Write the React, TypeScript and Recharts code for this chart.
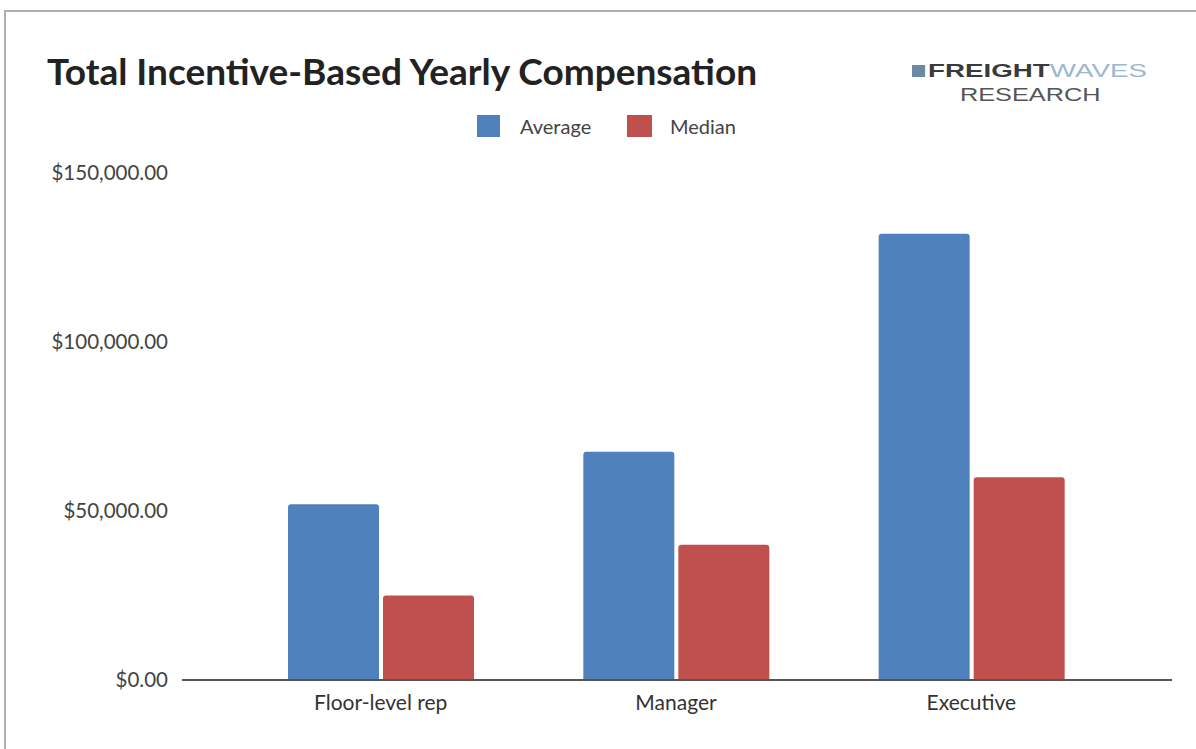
import React from "react";
import { BarChart, Bar, XAxis, YAxis } from "recharts";

const categories = ["Floor-level rep", "Manager", "Executive"];
const averageValues = [52000, 67500, 132000];
const medianValues = [25000, 40000, 60000];
const yTicks = [0, 50000, 100000, 150000];
const seriesNames = ["Average", "Median"];

const data = categories.map((name, i) => ({
  name,
  Average: averageValues[i],
  Median: medianValues[i],
}));

const BLUE = "#4f81bd";
const RED = "#c0504d";
const FONT = "Lato, 'Open Sans', sans-serif";

const fmt = (v: number) =>
  "$" + v.toLocaleString("en-US", { minimumFractionDigits: 2, maximumFractionDigits: 2 });

export default function App() {
  return (
    <div style={{ position: "absolute", left: 0, top: 0, width: 1196, height: 749, background: "#fff", overflow: "hidden" }}>
      <div style={{ position: "absolute", left: 4, top: 10, right: -10, bottom: -10, borderTop: "2px solid #b0b0b0", borderLeft: "2px solid #b0b0b0" }} />
      <div style={{ position: "absolute", left: 47, top: 49, fontFamily: FONT, fontWeight: 700, fontSize: 37, lineHeight: "44px", color: "#222", whiteSpace: "nowrap" }}>
        Total Incentive-Based Yearly Compensation
      </div>
      <div style={{ position: "absolute", left: 912, top: 61, fontFamily: "'Liberation Sans', Arial, sans-serif", fontSize: 19, lineHeight: "19px", whiteSpace: "nowrap", transform: "scaleX(1.46)", transformOrigin: "left top" }}>
        <span style={{ display: "inline-block", width: 9, height: 12, background: "#6b8aa6", marginRight: 2 }} />
        <span style={{ color: "#3a3a3a", fontWeight: 700 }}>FREIGHT</span>
        <span style={{ color: "#9bb8d0", fontWeight: 400 }}>WAVES</span>
      </div>
      <div style={{ position: "absolute", left: 960, top: 85, fontFamily: "'Liberation Sans', Arial, sans-serif", fontSize: 19, lineHeight: "19px", color: "#555", whiteSpace: "nowrap", transform: "scaleX(1.33)", transformOrigin: "left top" }}>
        RESEARCH
      </div>
      <div style={{ position: "absolute", left: 477, top: 115, height: 22, display: "flex", alignItems: "center", fontFamily: FONT, fontSize: 20, color: "#444", whiteSpace: "nowrap" }}>
        <span style={{ width: 23, height: 22, background: BLUE, display: "inline-block", marginRight: 20 }} />
        <span style={{ width: 107 }}>{seriesNames[0]}</span>
        <span style={{ width: 25, height: 22, background: RED, display: "inline-block", marginRight: 18 }} />
        <span>{seriesNames[1]}</span>
      </div>
      <BarChart
        width={1196}
        height={749}
        data={data}
        margin={{ top: 173, right: 24, bottom: 39, left: 12 }}
        barSize={91}
        barGap={4}
      >
        <XAxis
          dataKey="name"
          height={30}
          axisLine={{ stroke: "#555", strokeWidth: 2 }}
          tickLine={false}
          tickSize={0}
          tickMargin={15}
          padding={{ left: 51, right: 53 }}
          tick={{ fill: "#333", fontSize: 21, fontFamily: FONT }}
        />
        <YAxis
          width={170}
          domain={[0, 150000]}
          ticks={yTicks}
          axisLine={false}
          tickLine={false}
          tickSize={0}
          tickMargin={14}
          tickFormatter={fmt}
          tick={{ fill: "#444", fontSize: 20.5, fontFamily: FONT }}
        />
        <Bar dataKey="Average" fill={BLUE} radius={[3, 3, 0, 0]} isAnimationActive={false} />
        <Bar dataKey="Median" fill={RED} radius={[3, 3, 0, 0]} isAnimationActive={false} />
      </BarChart>
    </div>
  );
}
